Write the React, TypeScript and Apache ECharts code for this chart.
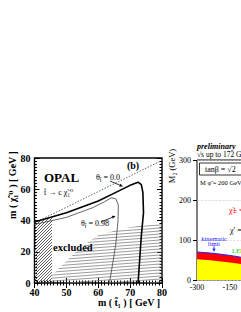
import React, { useEffect, useRef } from 'react';
import * as echarts from 'echarts';

// ---- Left panel (OPAL, stop -> c chi) ----
const stopMassTheta0 = [40, 50, 60, 66, 70, 72.5, 73.5, 74, 74.2, 73.5, 73, 72.5];
const lspMassTheta0 = [39, 45, 52.5, 58.5, 62.5, 64.5, 63, 58, 45, 30, 15, 0];
const stopMassTheta98 = [40, 50, 58, 62, 64, 65.5, 66.3, 66.2, 65.5, 64.5, 63.5];
const lspMassTheta98 = [37.5, 42, 48, 52, 54.5, 54, 50, 40, 25, 12, 0];
const kinStop = [40, 80];
const kinLsp = [38.5, 78.5];
const lep1Stop = [40, 45.5];
const lep1Lsp = [39, 42.3];
const exclStop = [45.5, 45.5, 50, 53, 56, 60, 66, 72, 80];
const exclLsp = [0, 5, 14, 20, 25, 30.5, 34, 36.5, 38.5];
const leftXTicks = [40, 50, 60, 70, 80];
const leftYTicks = [0, 20, 40, 60, 80];

// ---- Right panel (M2 vs mu), cropped at the picture's right edge ----
const rightMu = [-300, -250, -200, -150, -100, -80];
const rightKinLimit = [70, 68, 65, 61.5, 57, 55];
const rightLep1 = [52, 50, 47, 44, 40, 38.5];
const rightYTicks = [0, 100, 200, 300];
const rightXRange = [-300, -95];

const zip = (a: number[], b: number[]) => a.map((v, i) => [v, b[i]]);
const SERIF = '"Liberation Serif", "DejaVu Serif", serif';

function hatch(w: number, h: number, color: string, lw: number, segs: number[][]) {
  const c = document.createElement('canvas');
  c.width = w;
  c.height = h;
  const ctx = c.getContext('2d')!;
  ctx.strokeStyle = color;
  ctx.lineWidth = lw;
  segs.forEach(([a, b, x2, y2]) => {
    ctx.beginPath();
    ctx.moveTo(a, b);
    ctx.lineTo(x2, y2);
    ctx.stroke();
  });
  return { image: c.toDataURL(), repeat: 'repeat', imageWidth: w, imageHeight: h } as any;
}

function arrow(x1: number, y1: number, x2: number, y2: number, color: string) {
  const ang = Math.atan2(y2 - y1, x2 - x1);
  const L = 3.5;
  const W = 1.6;
  const bx = x2 - L * Math.cos(ang);
  const by = y2 - L * Math.sin(ang);
  const px = -Math.sin(ang) * W;
  const py = Math.cos(ang) * W;
  return [
    { type: 'line', shape: { x1, y1, x2: bx, y2: by }, style: { stroke: color, lineWidth: 0.8 }, z: 100 },
    {
      type: 'polygon',
      shape: { points: [[x2, y2], [bx + px, by + py], [bx - px, by - py]] },
      style: { fill: color },
      z: 100,
    },
  ];
}

function txt(x: number, y: number, text: string, font: string, extra: any = {}) {
  return {
    type: 'text',
    x,
    y,
    rotation: extra.rotation || 0,
    style: {
      text,
      font,
      fill: extra.fill || '#000',
      align: extra.align || 'left',
      verticalAlign: 'middle',
      rich: extra.rich,
    },
    z: 100,
  };
}

export default function App() {
  const ref = useRef<HTMLDivElement>(null);
  useEffect(() => {
    if (!ref.current) return;
    const chart = echarts.init(ref.current, undefined, { renderer: 'svg' });
    const denseHatch = hatch(3, 3, '#333', 0.8, [
      [0, 3, 3, 0],
      [-1, 1, 1, -1],
      [2, 4, 4, 2],
    ]);
    const lineHatch = hatch(40, 3, '#707070', 0.7, [
      [0, 3, 40, 0],
      [0, 0, 40, -3],
      [0, 6, 40, 3],
    ]);

    const leftTickFont = { fontFamily: SERIF, fontWeight: 'bold' as const, fontSize: 10, color: '#000' };
    const rightTickFont = { fontFamily: SERIF, fontSize: 8, color: '#000' };

    const thetaRich = {
      a: { font: `8px ${SERIF}`, fill: '#000' },
      s: { font: `6px ${SERIF}`, fill: '#000', padding: [5, 0, 0, 0] },
    };

    const option: any = {
      animation: false,
      backgroundColor: '#fff',
      grid: [
        { left: 34.5, top: 158, width: 127.5, height: 125, show: true, borderColor: '#000', borderWidth: 1.4, backgroundColor: 'transparent', outerBoundsMode: 'none', containLabel: false },
        { left: 197, top: 160, width: 45, height: 120, show: true, borderColor: '#000', borderWidth: 1, backgroundColor: 'transparent', outerBoundsMode: 'none', containLabel: false },
      ],
      xAxis: [
        {
          gridIndex: 0, type: 'value', min: leftXTicks[0], max: leftXTicks[leftXTicks.length - 1], interval: 10,
          axisLine: { show: false },
          axisTick: { inside: true, length: 5, lineStyle: { color: '#000' } },
          minorTick: { show: true, splitNumber: 10, length: 2.5, lineStyle: { color: '#000' } },
          axisLabel: { ...leftTickFont, margin: 4 },
          splitLine: { show: false },
        },
        {
          gridIndex: 0, type: 'value', position: 'top', min: 40, max: 80, interval: 10,
          axisLine: { show: false },
          axisTick: { inside: true, length: 5, lineStyle: { color: '#000' } },
          minorTick: { show: true, splitNumber: 10, length: 2.5, lineStyle: { color: '#000' } },
          axisLabel: { show: false },
          splitLine: { show: false },
        },
        {
          gridIndex: 1, type: 'value', min: rightXRange[0], max: rightXRange[1], interval: 150,
          axisLine: { show: false },
          axisTick: { inside: true, length: 3, lineStyle: { color: '#000' } },
          axisLabel: { ...rightTickFont, margin: 3, showMaxLabel: false },
          splitLine: { show: false },
        },
      ],
      yAxis: [
        {
          gridIndex: 0, type: 'value', min: leftYTicks[0], max: leftYTicks[leftYTicks.length - 1], interval: 20,
          axisLine: { show: false },
          axisTick: { inside: true, length: 5, lineStyle: { color: '#000' } },
          minorTick: { show: true, splitNumber: 10, length: 2.5, lineStyle: { color: '#000' } },
          axisLabel: { ...leftTickFont, margin: 4 },
          splitLine: { show: false },
        },
        {
          gridIndex: 0, type: 'value', position: 'right', min: 0, max: 80, interval: 20,
          axisLine: { show: false },
          axisTick: { inside: true, length: 5, lineStyle: { color: '#000' } },
          minorTick: { show: true, splitNumber: 10, length: 2.5, lineStyle: { color: '#000' } },
          axisLabel: { show: false },
          splitLine: { show: false },
        },
        {
          gridIndex: 1, type: 'value', min: rightYTicks[0], max: rightYTicks[rightYTicks.length - 1], interval: 100,
          axisLine: { show: false },
          axisTick: { inside: false, length: 4, lineStyle: { color: '#000' } },
          axisLabel: { ...rightTickFont, margin: 6 },
          splitLine: { show: true, lineStyle: { color: '#ccc', type: 'dashed', width: 0.6 } },
        },
      ],
      series: [
        {
          type: 'line', xAxisIndex: 0, yAxisIndex: 0, data: zip(lep1Stop, lep1Lsp), showSymbol: false, symbol: 'none',
          lineStyle: { width: 0, opacity: 0 }, areaStyle: { color: denseHatch, opacity: 1 }, z: 1,
        },
        {
          type: 'line', xAxisIndex: 0, yAxisIndex: 0, data: zip(exclStop, exclLsp), showSymbol: false, symbol: 'none',
          lineStyle: { width: 0, opacity: 0 }, areaStyle: { color: lineHatch, opacity: 1 }, z: 1,
        },
        {
          type: 'line', xAxisIndex: 0, yAxisIndex: 0, data: zip(kinStop, kinLsp), showSymbol: false, symbol: 'none',
          lineStyle: { width: 1, color: '#666', type: [1.5, 1.5] }, z: 2,
        },
        {
          type: 'line', xAxisIndex: 0, yAxisIndex: 0, data: zip(stopMassTheta98, lspMassTheta98), showSymbol: false, symbol: 'none',
          lineStyle: { width: 0.9, color: '#555' }, z: 3,
        },
        {
          type: 'line', xAxisIndex: 0, yAxisIndex: 0, data: zip(stopMassTheta0, lspMassTheta0), showSymbol: false, symbol: 'none',
          lineStyle: { width: 1.6, color: '#000' }, z: 4,
        },
        {
          type: 'line', xAxisIndex: 2, yAxisIndex: 2, data: zip(rightMu, rightKinLimit), showSymbol: false, symbol: 'none',
          lineStyle: { width: 1, color: '#2020ff' }, areaStyle: { color: '#ff0000', opacity: 1 }, z: 2,
        },
        {
          type: 'line', xAxisIndex: 2, yAxisIndex: 2, data: zip(rightMu, rightLep1), showSymbol: false, symbol: 'none',
          lineStyle: { width: 0, opacity: 0 }, areaStyle: { color: '#ffff00', opacity: 1 }, z: 3,
        },
      ],
      graphic: [
        // left panel texts
        txt(12, 185, 'm ( χ̃₁⁰ ) [ GeV ]', `bold 10px ${SERIF}`, { rotation: Math.PI / 2, align: 'center' }),
        txt(129, 302, 'm ( t̃₁ ) [ GeV ]', `bold 10px ${SERIF}`, { align: 'center' }),
        txt(44, 177, 'OPAL', `bold 13px ${SERIF}`),
        txt(44, 192, 't̃ → c χ̃₁⁰', `8px ${SERIF}`),
        txt(133, 165, '(b)', `bold 10px ${SERIF}`, { align: 'center' }),
        txt(96, 177, '{a|θ}{s|t̃}{a| = 0.0}', `8px ${SERIF}`, { rich: thetaRich }),
        ...arrow(110, 181, 123, 186.5, '#000'),
        txt(81, 223, '{a|θ}{s|t̃}{a| = 0.98}', `8px ${SERIF}`, { rich: thetaRich }),
        ...arrow(101, 222, 115.5, 216, '#000'),
        txt(53, 247, 'excluded', `bold 10.5px ${SERIF}`),
        // right panel texts
        txt(197, 146, 'preliminary', `bold italic 8px ${SERIF}`),
        txt(197, 154, '√s up to 172 GeV', `7.5px ${SERIF}`),
        txt(172, 166, 'M₂ (GeV)', `8.5px ${SERIF}`, { rotation: Math.PI / 2, align: 'center' }),
        { type: 'rect', shape: { x: 199.5, y: 163, width: 70, height: 12 }, style: { fill: '#fff', stroke: '#000', lineWidth: 0.8 }, z: 90 },
        txt(205, 169, 'tanβ = √2', `8px ${SERIF}`),
        txt(200, 182, 'M φ̃ = 200 GeV', `6.5px ${SERIF}`),
        txt(229, 210, 'χ̃± =', `8px ${SERIF}`, { fill: '#ff0000' }),
        txt(230, 230, 'χ′ =', `8px ${SERIF}`),
        txt(214, 238, 'kinematic', `6.5px ${SERIF}`, { fill: '#2020ff', align: 'center' }),
        txt(214, 243.5, 'limit', `6.5px ${SERIF}`, { fill: '#2020ff', align: 'center' }),
        ...arrow(214, 246, 214, 252, '#2020ff'),
        txt(232, 250, 'LEP1', `6.5px ${SERIF}`, { fill: '#00cc00' }),
      ],
    };
    chart.setOption(option);
    return () => chart.dispose();
  }, []);
  return (
    <div
      ref={ref}
      style={{ position: 'fixed', left: 0, top: 0, width: 241, height: 312, background: '#fff', overflow: 'hidden' }}
    />
  );
}
